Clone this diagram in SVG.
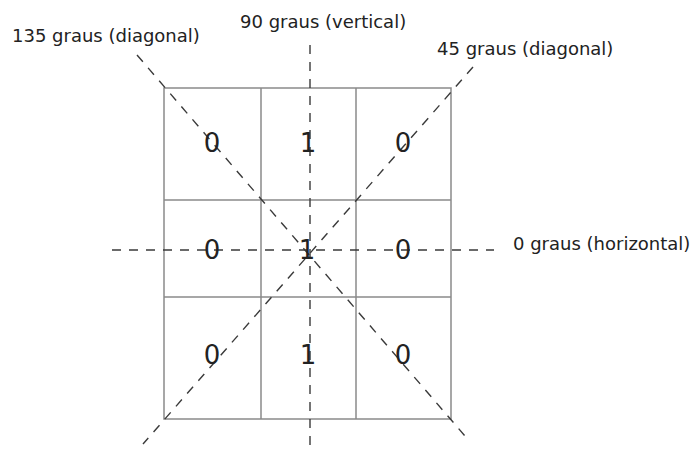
<svg xmlns="http://www.w3.org/2000/svg" width="694" height="450" viewBox="0 0 694 450">
<style>
.grid{fill:none;stroke:#8a8a8a;stroke-width:1.5}
.dash{fill:none;stroke:#3a3a3a;stroke-width:1.4;stroke-dasharray:9 8}
.num{font-family:"DejaVu Sans",sans-serif;font-size:26px;fill:#222;text-anchor:middle}
.lbl{font-family:"DejaVu Sans",sans-serif;font-size:18px;fill:#222}
</style>
<rect width="694" height="450" fill="#fff"/>
<g id="grid">
<rect class="grid" x="164" y="88" width="287" height="331"/>
<line class="grid" x1="261" y1="88" x2="261" y2="419"/>
<line class="grid" x1="356" y1="88" x2="356" y2="419"/>
<line class="grid" x1="164" y1="200" x2="451" y2="200"/>
<line class="grid" x1="164" y1="297" x2="451" y2="297"/>
</g>
<g id="connectors">
<line class="dash" x1="310" y1="45" x2="310" y2="450"/>
<line class="dash" x1="112" y1="250" x2="494" y2="250"/>
<line class="dash" x1="137" y1="55" x2="465" y2="436"/>
<line class="dash" x1="473" y1="67" x2="143" y2="444"/>
</g>
<g id="cells">
<text class="num" x="212" y="152">0</text>
<text class="num" x="308" y="152">1</text>
<text class="num" x="403" y="152">0</text>
<text class="num" x="212" y="259">0</text>
<text class="num" x="307" y="259">1</text>
<text class="num" x="403" y="259">0</text>
<text class="num" x="212" y="364">0</text>
<text class="num" x="308" y="364">1</text>
<text class="num" x="403" y="364">0</text>
</g>
<g id="labels">
<text class="lbl" x="12" y="42">135 graus (diagonal)</text>
<text class="lbl" x="240" y="28">90 graus (vertical)</text>
<text class="lbl" x="437" y="55">45 graus (diagonal)</text>
<text class="lbl" x="513" y="250">0 graus (horizontal)</text>
</g>
</svg>
